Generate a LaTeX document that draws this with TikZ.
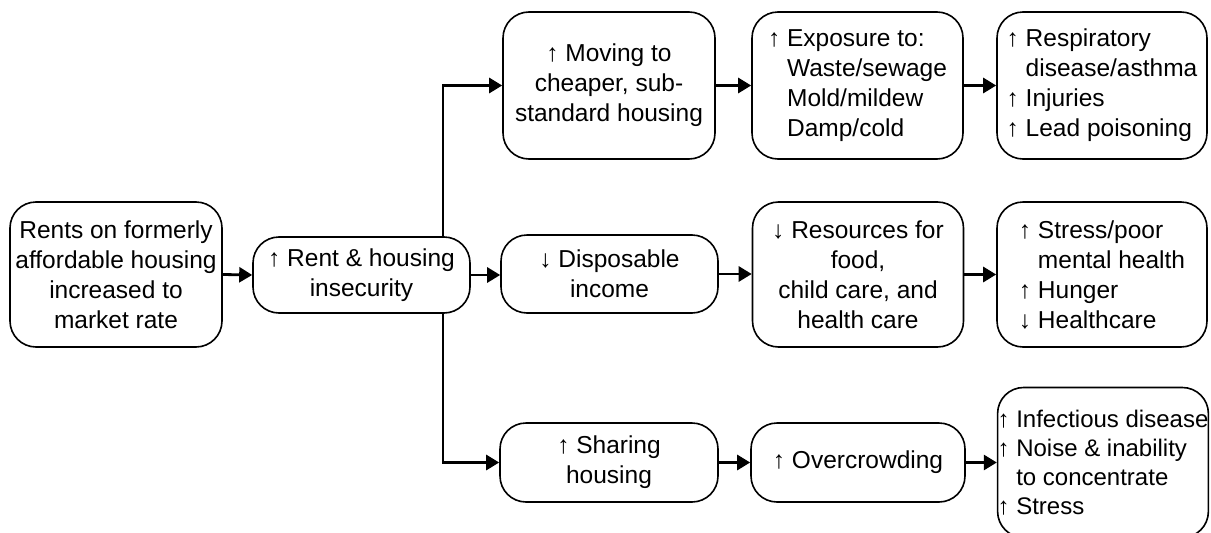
\documentclass[tikz,border=0pt]{standalone}
\usepackage{fontspec}
\setmainfont{Liberation Sans}
\usetikzlibrary{arrows.meta}

\begin{document}
\begin{tikzpicture}[x=1pt, y=-1pt,
        box/.style={draw, line width=1.6pt, rounded corners=26pt, align=center, inner sep=0pt,
            font=\fontsize{24.5}{30}\selectfont},
        lbox/.style={box, align=left},
        link/.style={line width=2.8pt, -{Triangle[length=13pt, width=15pt]}}]
        \useasboundingbox (0,0) rectangle (1211,533);
        % cause
        \node[box, minimum width=212pt, minimum height=145pt] (nRents) at (116,274.5)
            {Rents on formerly\\affordable housing\\increased to\\market rate};
        \node[box, minimum width=217pt, minimum height=76pt] (nRentUp) at (361.5,275)
            {↑ Rent \& housing\\insecurity};
        \coordinate (cSplit) at (443,275);
        % top row
        \node[box, minimum width=212pt, minimum height=147pt] (nMoving) at (609,85.5)
            {↑ Moving to\\cheaper, sub-\\standard housing};
        \node[lbox, minimum width=211pt, minimum height=147pt] (nExposure) at (857.5,85.5)
            {↑ Exposure to:\\\phantom{↑ }Waste/sewage\\\phantom{↑ }Mold/mildew\\\phantom{↑ }Damp/cold};
        \node[lbox, minimum width=210pt, minimum height=147pt] (nResp) at (1102,85.5)
            {↑ Respiratory\\\phantom{↑ }disease/asthma\\↑ Injuries\\↑ Lead poisoning};
        % middle row
        \node[box, minimum width=217pt, minimum height=78pt] (nDispos) at (609.5,274)
            {↓ Disposable\\income};
        \node[box, minimum width=211pt, minimum height=145pt] (nResources) at (858,274.5)
            {↓ Resources for\\food,\\child care, and\\health care};
        \node[lbox, minimum width=210pt, minimum height=145pt] (nStress) at (1102,274.5)
            {↑ Stress/poor\\\phantom{↑ }mental health\\↑ Hunger\\↓ Healthcare};
        % bottom row
        \node[box, minimum width=218pt, minimum height=79pt] (nSharing) at (609,462.5)
            {↑ Sharing\\housing};
        \node[box, minimum width=214pt, minimum height=79pt] (nCrowd) at (858,462.5)
            {↑ Overcrowding};
        \node[lbox, minimum width=210pt, minimum height=150pt, font=\fontsize{24}{29}\selectfont] (nInfect) at (1103,462.5)
            {↑ Infectious disease\\↑ Noise \& inability\\\phantom{↑ }to concentrate\\↑ Stress};

        \draw[link] (nRents.east) -- (nRentUp.west);
        \draw[link] (nRentUp.east) -- (nRentUp.east -| nDispos.west);
        \draw[link] (nRentUp.north -| cSplit) |- (nMoving.west);
        \draw[link] (nRentUp.south -| cSplit) |- (nSharing.west);
        \foreach \a/\b in
        {nMoving/nExposure,
            nExposure/nResp,
            nDispos/nResources,
            nResources/nStress,
            nSharing/nCrowd,
            nCrowd/nInfect}
        {
            \draw[link] (\a.east) -- (\a.east -| \b.west);
        };
\end{tikzpicture}
\end{document}
